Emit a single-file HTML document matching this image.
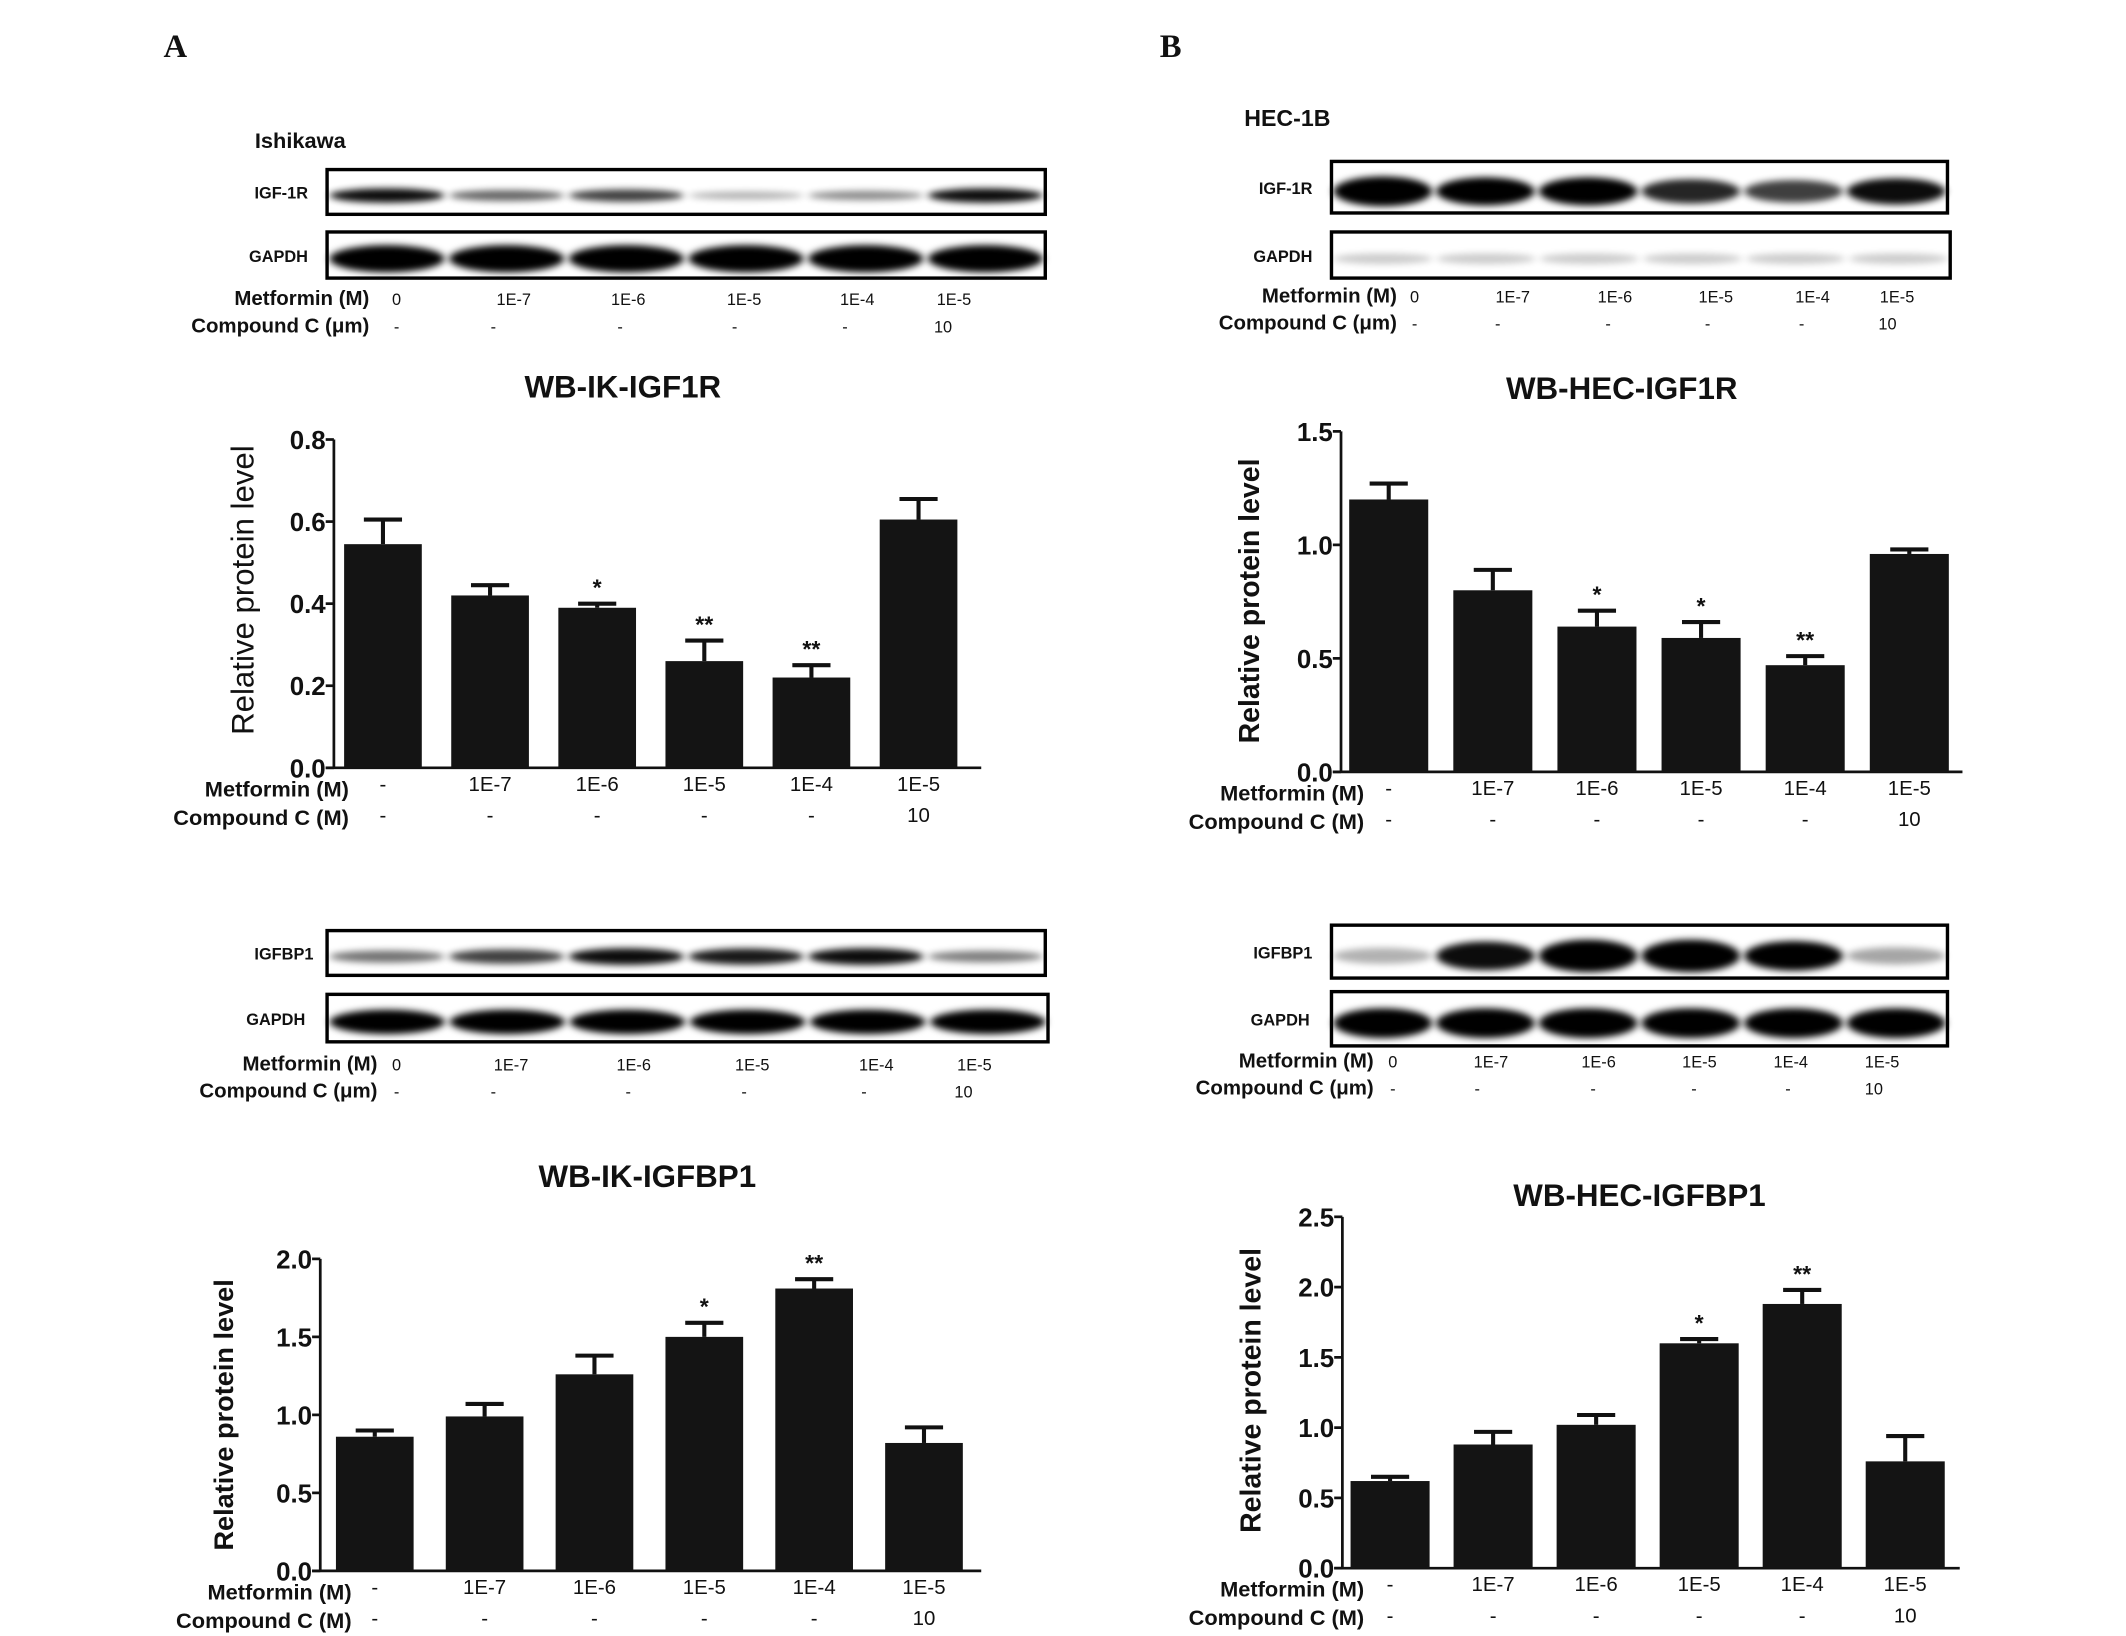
<!DOCTYPE html>
<html><head><meta charset="utf-8">
<style>
html,body{margin:0;padding:0;background:#fff;}
svg{display:block;}
text{font-family:"Liberation Sans",sans-serif;fill:#111;}
</style></head>
<body>
<svg id="fig" width="2126" height="1636" viewBox="0 0 1560 1206" preserveAspectRatio="none" xmlns="http://www.w3.org/2000/svg">
<defs>
<filter id="blur" x="-20%" y="-100%" width="140%" height="300%"><feGaussianBlur stdDeviation="3 2.5"/></filter>
</defs>
<rect width="1560" height="1206" fill="#fff"/>
<text x="120" y="42" font-weight="bold" font-size="24" style="font-family:'Liberation Serif',serif">A</text>
<text x="851" y="42" font-weight="bold" font-size="24" style="font-family:'Liberation Serif',serif">B</text>
<text x="187" y="109" font-weight="bold" font-size="16">Ishikawa</text>
<text x="913" y="93" font-weight="bold" font-size="17">HEC-1B</text>
<g id="blots"></g>
<g id="charts"></g>
</svg>
<script>
// ---- chart data ----
const metforminCats = ["-", "1E-7", "1E-6", "1E-5", "1E-4", "1E-5"];
const compoundCats = ["-", "-", "-", "-", "-", "10"];
const ikIgf1rValues = [0.545, 0.42, 0.39, 0.26, 0.22, 0.605];
const ikIgf1rErrTop = [0.605, 0.445, 0.40, 0.31, 0.25, 0.655];
const ikIgf1rStars = ["", "", "*", "**", "**", ""];
const ikIgf1rTicks = ["0.0", "0.2", "0.4", "0.6", "0.8"];
const ikIgfbp1Values = [0.86, 0.99, 1.26, 1.50, 1.81, 0.82];
const ikIgfbp1ErrTop = [0.90, 1.07, 1.38, 1.59, 1.87, 0.92];
const ikIgfbp1Stars = ["", "", "", "*", "**", ""];
const ikIgfbp1Ticks = ["0.0", "0.5", "1.0", "1.5", "2.0"];
const hecIgf1rValues = [1.20, 0.80, 0.64, 0.59, 0.47, 0.96];
const hecIgf1rErrTop = [1.27, 0.89, 0.71, 0.66, 0.51, 0.98];
const hecIgf1rStars = ["", "", "*", "*", "**", ""];
const hecIgf1rTicks = ["0.0", "0.5", "1.0", "1.5"];
const hecIgfbp1Values = [0.62, 0.88, 1.02, 1.60, 1.88, 0.76];
const hecIgfbp1ErrTop = [0.65, 0.97, 1.09, 1.63, 1.98, 0.94];
const hecIgfbp1Stars = ["", "", "", "*", "**", ""];
const hecIgfbp1Ticks = ["0.0", "0.5", "1.0", "1.5", "2.0", "2.5"];
const blotMetLabels = ["0", "1E-7", "1E-6", "1E-5", "1E-4", "1E-5"];

const NS = "http://www.w3.org/2000/svg";
function mk(tag, attrs, parent, txt) {
  const e = document.createElementNS(NS, tag);
  for (const k in attrs) e.setAttribute(k, attrs[k]);
  if (txt !== undefined) e.textContent = txt;
  parent.appendChild(e);
  return e;
}
const charts = document.getElementById('charts');
const blots = document.getElementById('blots');

function drawChart(c, values, errTop, stars, ticks) {
  const g = mk('g', {}, charts);
  
  
  const ymax = parseFloat(ticks[ticks.length - 1]);
  const y = v => c.y0 - (v / ymax) * (c.y0 - c.yTop);
  const x = i => c.x0 + c.first + i * c.step;
  const t = mk('text', {x: c.titleX, y: c.titleY, 'text-anchor': 'middle', 'font-weight': 'bold', 'font-size': 23}, g, c.title);
  
  
  const ax = mk('line', {x1: c.x0, y1: c.yTop, x2: c.x0, y2: c.y0, stroke: '#111', 'stroke-width': 2}, g);
  
  
  const xx = mk('line', {x1: c.x0 - 6, y1: c.y0, x2: c.xEnd, y2: c.y0, stroke: '#111', 'stroke-width': 2}, g);
  
  
  ticks.forEach(tk => {
    const v = parseFloat(tk), yy = y(v);
    mk('line', {x1: c.x0 - 6, y1: yy, x2: c.x0, y2: yy, stroke: '#111', 'stroke-width': 2}, g);
    const tl = mk('text', {x: c.x0 - 6, y: yy + 7, 'text-anchor': 'end', 'font-weight': 'bold', 'font-size': 19}, g, tk);
    
    
  });
  const yl = mk('text', {x: 0, y: 0, transform: `translate(${c.ylx},${c.yly}) rotate(-90)`, 'text-anchor': 'middle', 'font-size': c.ylSize, 'font-weight': c.ylBold ? 'bold' : 'normal'}, g, 'Relative protein level');
  
  
  values.forEach((v, i) => {
    const cx = x(i), bw = c.bw;
    const et = y(errTop[i]);
    const el = mk('line', {x1: cx, y1: et, x2: cx, y2: y(v), stroke: '#111', 'stroke-width': 3}, g);
    
    
    mk('line', {x1: cx - 14, y1: et, x2: cx + 14, y2: et, stroke: '#111', 'stroke-width': 3}, g);
    const b = mk('rect', {x: cx - bw / 2, y: y(v), width: bw, height: c.y0 - y(v), fill: '#141414'}, g);
    
    
    if (stars[i]) {
      const s = mk('text', {x: cx, y: et - 6, 'text-anchor': 'middle', 'font-weight': 'bold', 'font-size': 17}, g, stars[i]);
      
      
    }
    const m = mk('text', {x: cx, y: c.y0 + 17, 'text-anchor': 'middle', 'font-size': 15}, g, metforminCats[i]);
    
    
    const cc = mk('text', {x: cx, y: c.y0 + 40, 'text-anchor': 'middle', 'font-size': 15}, g, compoundCats[i]);
    
    
  });
  const r1 = mk('text', {x: c.rowX, y: c.y0 + 21, 'text-anchor': 'end', 'font-weight': 'bold', 'font-size': 16}, g, 'Metformin (M)');
  
  
  const r2 = mk('text', {x: c.rowX, y: c.y0 + 42, 'text-anchor': 'end', 'font-weight': 'bold', 'font-size': 16}, g, 'Compound C (M)');
  
  
}

drawChart({name: 'chart-ik-igf1r', title: 'WB-IK-IGF1R', titleX: 457, titleY: 293, x0: 245, xEnd: 720, yTop: 324, y0: 566, first: 36, step: 78.6, bw: 57, ylx: 186, yly: 435, ylSize: 23, rowX: 256},
  ikIgf1rValues, ikIgf1rErrTop, ikIgf1rStars, ikIgf1rTicks);
drawChart({name: 'chart-ik-igfbp1', title: 'WB-IK-IGFBP1', titleX: 475, titleY: 875, x0: 235, xEnd: 720, yTop: 928, y0: 1158, first: 40, step: 80.6, bw: 57, ylx: 171, yly: 1043, ylSize: 20, ylBold: true, rowX: 258},
  ikIgfbp1Values, ikIgfbp1ErrTop, ikIgfbp1Stars, ikIgfbp1Ticks);
drawChart({name: 'chart-hec-igf1r', title: 'WB-HEC-IGF1R', titleX: 1190, titleY: 294, x0: 984, xEnd: 1440, yTop: 318, y0: 569, first: 35, step: 76.4, bw: 58, ylx: 924, yly: 443, ylSize: 21, ylBold: true, rowX: 1001},
  hecIgf1rValues, hecIgf1rErrTop, hecIgf1rStars, hecIgf1rTicks);
drawChart({name: 'chart-hec-igfbp1', title: 'WB-HEC-IGFBP1', titleX: 1203, titleY: 889, x0: 985, xEnd: 1438, yTop: 897, y0: 1156, first: 35, step: 75.6, bw: 58, ylx: 925, yly: 1025, ylSize: 21, ylBold: true, rowX: 1001},
  hecIgfbp1Values, hecIgfbp1ErrTop, hecIgfbp1Stars, hecIgfbp1Ticks);

// ---- blots ----
function drawBlot(name, label, bx, by, bw, bh, labelX, intens, thick, bg) {
  const g = mk('g', {}, blots);
  
  
  mk('rect', {x: bx, y: by, width: bw, height: bh, fill: bg || '#fff'}, g);
  const lw = bw / 6;
  intens.forEach((v, i) => {
    const cx = bx + lw * (i + 0.5);
    mk('ellipse', {cx: cx, cy: by + bh * 0.58, rx: lw * 0.48, ry: thick * (0.4 + 0.6 * v), fill: '#000', opacity: Math.min(1, 0.15 + v), filter: 'url(#blur)'}, g);
  });
  mk('rect', {x: bx, y: by, width: bw, height: bh, fill: 'none', stroke: '#000', 'stroke-width': 2.5}, g);
  const t = mk('text', {x: labelX, y: by + bh / 2 + 5, 'text-anchor': 'end', 'font-weight': 'bold', 'font-size': 12}, g, label);
  
  
}
function drawBlotLabels(name, rowX, y1, xs, dashXs, tenX, size) {
  const g = mk('g', {}, blots);
  
  
  mk('text', {x: rowX, y: y1, 'text-anchor': 'end', 'font-weight': 'bold', 'font-size': 15}, g, 'Metformin (M)');
  mk('text', {x: rowX, y: y1 + 20, 'text-anchor': 'end', 'font-weight': 'bold', 'font-size': 15}, g, 'Compound C (μm)');
  blotMetLabels.forEach((l, i) => mk('text', {x: xs[i], y: y1, 'text-anchor': 'middle', 'font-size': size}, g, l));
  dashXs.forEach(x => mk('text', {x: x, y: y1 + 20, 'text-anchor': 'middle', 'font-size': size}, g, '-'));
  mk('text', {x: tenX, y: y1 + 20, 'text-anchor': 'middle', 'font-size': size}, g, '10');
}
drawBlot('blot-ik-igf1r', 'IGF-1R', 240, 125, 527, 33, 226, [0.8, 0.45, 0.6, 0.15, 0.3, 0.8], 6);
drawBlot('blot-ik-gapdh1', 'GAPDH', 240, 171, 527, 34, 226, [1, 1, 1, 1, 1, 1], 10);
drawBlotLabels('blot-ik-igf1r-conditions', 271, 225, [291, 377, 461, 546, 629, 700], [291, 362, 455, 539, 620], 692, 12);
drawBlot('blot-ik-igfbp1', 'IGFBP1', 240, 686, 527, 33, 230, [0.4, 0.6, 0.8, 0.75, 0.8, 0.35], 7);
drawBlot('blot-ik-gapdh2', 'GAPDH', 240, 733, 529, 35, 224, [1, 1, 1, 1, 1, 1], 9);
drawBlotLabels('blot-ik-igfbp1-conditions', 277, 789, [291, 375, 465, 552, 643, 715], [291, 362, 461, 546, 634], 707, 12);
drawBlot('blot-hec-igf1r', 'IGF-1R', 977, 119, 452, 38, 963, [1, 0.9, 0.9, 0.7, 0.6, 0.8], 11);
drawBlot('blot-hec-gapdh1', 'GAPDH', 977, 171, 454, 34, 963, [0.05, 0.05, 0.05, 0.05, 0.05, 0.05], 9);
drawBlotLabels('blot-hec-igf1r-conditions', 1025, 223, [1038, 1110, 1185, 1259, 1330, 1392], [1038, 1099, 1180, 1253, 1322], 1385, 12);
drawBlot('blot-hec-igfbp1', 'IGFBP1', 977, 682, 452, 39, 963, [0.15, 0.8, 1, 1, 0.85, 0.2], 12);
drawBlot('blot-hec-gapdh2', 'GAPDH', 977, 731, 452, 40, 961, [1, 1, 1, 1, 1, 1], 11);
drawBlotLabels('blot-hec-igfbp1-conditions', 1008, 787, [1022, 1094, 1173, 1247, 1314, 1381], [1022, 1084, 1169, 1243, 1312], 1375, 12);
</script>
</body></html>
